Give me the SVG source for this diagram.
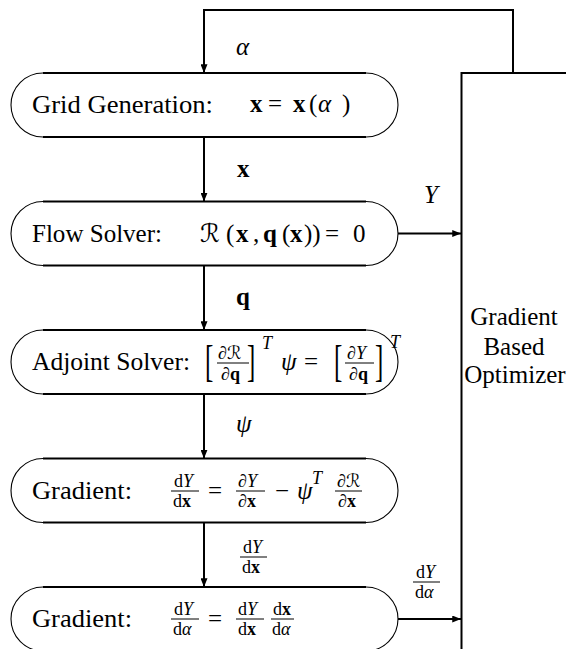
<svg xmlns="http://www.w3.org/2000/svg" width="566" height="649" viewBox="0 0 566 649">
<style>
.b{font-weight:bold}
.i{font-style:italic}
.s{font-family:'Liberation Serif','Times New Roman',serif}
.edge{fill:none;stroke:#000;stroke-width:2}
.arc{fill:none;stroke:#000;stroke-width:1.1}
.flat{fill:none;stroke:#000;stroke-width:2}
.fl{stroke:#000;stroke-width:1}
.box{fill:none;stroke:#000;stroke-width:2}
</style>
<defs>
<marker id="ah" viewBox="0 0 10 8" refX="10" refY="4" markerWidth="9" markerHeight="7" markerUnits="userSpaceOnUse" orient="auto">
<path d="M0,0 L10,4 L0,8 z" fill="#000"/>
</marker>
</defs>

<g id="connectors">
<path class="edge" d="M513,73 V10 H204 V73" marker-end="url(#ah)"/>
<path class="edge" d="M204,137 V201.5" marker-end="url(#ah)"/>
<path class="edge" d="M204,265.5 V330" marker-end="url(#ah)"/>
<path class="edge" d="M204,394 V458.5" marker-end="url(#ah)"/>
<path class="edge" d="M204,522.5 V587" marker-end="url(#ah)"/>
<path class="edge" d="M398,233.5 H461" marker-end="url(#ah)"/>
<path class="edge" d="M398,619 H461" marker-end="url(#ah)"/>
<text class="s i" style="font-family:'Liberation Serif',serif;font-size:25px" x="236" y="55">α</text>
<text class="s b" style="font-family:'Liberation Serif',serif;font-size:25px" x="237" y="177">x</text>
<text class="s i" style="font-family:'Liberation Serif',serif;font-size:25px" x="424" y="203">Y</text>
<text class="s b" style="font-family:'Liberation Serif',serif;font-size:25px" x="236" y="305">q</text>
<text class="s i" style="font-family:'Liberation Serif',serif;font-size:25px" x="236" y="432">ψ</text>
<text class="s" style="font-family:'Liberation Serif',serif;font-size:18px" x="243" y="553">d<tspan class="i">Y</tspan></text>
<line class="fl" x1="240" y1="557" x2="267" y2="557"/>
<text class="s" style="font-family:'Liberation Serif',serif;font-size:18px" x="242" y="573">d<tspan class="b">x</tspan></text>
<text class="s" style="font-family:'Liberation Serif',serif;font-size:18px" x="416" y="578">d<tspan class="i">Y</tspan></text>
<line class="fl" x1="413" y1="582" x2="440" y2="582"/>
<text class="s" style="font-family:'Liberation Serif',serif;font-size:18px" x="415" y="598">d<tspan class="i">α</tspan></text>
</g>

<g id="optimizer">
<rect class="box" x="461.5" y="73" width="120" height="600"/>
<text class="s" style="font-family:'Liberation Serif',serif;font-size:25px" x="514" y="325" text-anchor="middle">Gradient</text>
<text class="s" style="font-family:'Liberation Serif',serif;font-size:25px" x="514" y="355" text-anchor="middle">Based</text>
<text class="s" style="font-family:'Liberation Serif',serif;font-size:25px" x="515" y="383" text-anchor="middle">Optimizer</text>
</g>

<g id="grid">
<path class="flat" d="M43,73 H366 M43,137 H366"/>
<path class="arc" d="M43,73 A32,32 0 0 0 43,137 M366,73 A32,32 0 0 1 366,137"/>
<text class="s" style="font-family:'Liberation Serif',serif;font-size:25px" x="32" y="113" textLength="181" lengthAdjust="spacingAndGlyphs">Grid Generation:</text>
<text class="s" style="font-family:'Liberation Serif',serif;font-size:25px" y="112"><tspan class="b" x="250">x</tspan><tspan x="268">=</tspan><tspan class="b" x="293">x</tspan><tspan x="309">(</tspan><tspan class="i" x="318">α</tspan><tspan x="342">)</tspan></text>
</g>

<g id="flow">
<path class="flat" d="M43,201.5 H366 M43,265.5 H366"/>
<path class="arc" d="M43,201.5 A32,32 0 0 0 43,265.5 M366,201.5 A32,32 0 0 1 366,265.5"/>
<text class="s" style="font-family:'Liberation Serif',serif;font-size:25px" x="32" y="241.5" textLength="130" lengthAdjust="spacingAndGlyphs">Flow Solver:</text>
<text class="s" style="font-family:'Liberation Serif',serif;font-size:25px" y="241.5"><tspan style="font-family:'DejaVu Sans'" x="200">ℛ</tspan><tspan x="226">(</tspan><tspan class="b" x="236">x</tspan><tspan x="253">,</tspan><tspan class="b" x="263">q</tspan><tspan x="282">(</tspan><tspan class="b" x="290">x</tspan><tspan x="304">))</tspan><tspan x="325">=</tspan><tspan x="353">0</tspan></text>
</g>

<g id="adjoint">
<path class="flat" d="M43,330 H366 M43,394 H366"/>
<path class="arc" d="M43,330 A32,32 0 0 0 43,394 M366,330 A32,32 0 0 1 366,394"/>
<text class="s" style="font-family:'Liberation Serif',serif;font-size:25px" x="32" y="370" textLength="158" lengthAdjust="spacingAndGlyphs">Adjoint Solver:</text>
<text class="s" style="font-family:'Liberation Serif',serif;font-size:25px" transform="translate(205,375.5) scale(1,1.75)">[</text>
<text class="s" style="font-family:'Liberation Serif',serif;font-size:18px" x="218" y="359">∂<tspan style="font-family:'DejaVu Sans'">ℛ</tspan></text>
<line class="fl" x1="217" y1="363" x2="249" y2="363"/>
<text class="s" style="font-family:'Liberation Serif',serif;font-size:18px" x="221" y="380">∂<tspan class="b">q</tspan></text>
<text class="s" style="font-family:'Liberation Serif',serif;font-size:25px" transform="translate(247,375.5) scale(1,1.75)">]</text>
<text class="s i" style="font-family:'Liberation Serif',serif;font-size:18px" x="262" y="349">T</text>
<text class="s i" style="font-family:'Liberation Serif',serif;font-size:25px" x="281" y="370">ψ</text>
<text class="s" style="font-family:'Liberation Serif',serif;font-size:25px" x="304" y="370">=</text>
<text class="s" style="font-family:'Liberation Serif',serif;font-size:25px" transform="translate(334,375.5) scale(1,1.75)">[</text>
<text class="s" style="font-family:'Liberation Serif',serif;font-size:18px" x="347" y="359">∂<tspan class="i">Y</tspan></text>
<line class="fl" x1="345" y1="363" x2="374" y2="363"/>
<text class="s" style="font-family:'Liberation Serif',serif;font-size:18px" x="349" y="380">∂<tspan class="b">q</tspan></text>
<text class="s" style="font-family:'Liberation Serif',serif;font-size:25px" transform="translate(375,375.5) scale(1,1.75)">]</text>
<text class="s i" style="font-family:'Liberation Serif',serif;font-size:18px" x="390" y="348">T</text>
</g>

<g id="gradient1">
<path class="flat" d="M43,458.5 H366 M43,522.5 H366"/>
<path class="arc" d="M43,458.5 A32,32 0 0 0 43,522.5 M366,458.5 A32,32 0 0 1 366,522.5"/>
<text class="s" style="font-family:'Liberation Serif',serif;font-size:25px" x="32" y="498.5" textLength="100" lengthAdjust="spacingAndGlyphs">Gradient:</text>
<text class="s" style="font-family:'Liberation Serif',serif;font-size:18px" x="174" y="487">d<tspan class="i">Y</tspan></text>
<line class="fl" x1="171" y1="491" x2="199" y2="491"/>
<text class="s" style="font-family:'Liberation Serif',serif;font-size:18px" x="173" y="507">d<tspan class="b">x</tspan></text>
<text class="s" style="font-family:'Liberation Serif',serif;font-size:25px" x="208" y="498.5">=</text>
<text class="s" style="font-family:'Liberation Serif',serif;font-size:18px" x="238" y="487">∂<tspan class="i">Y</tspan></text>
<line class="fl" x1="236" y1="491" x2="265" y2="491"/>
<text class="s" style="font-family:'Liberation Serif',serif;font-size:18px" x="238" y="507">∂<tspan class="b">x</tspan></text>
<text class="s" style="font-family:'Liberation Serif',serif;font-size:25px" x="275" y="498.5">−</text>
<text class="s i" style="font-family:'Liberation Serif',serif;font-size:25px" x="297" y="498.5">ψ</text>
<text class="s i" style="font-family:'Liberation Serif',serif;font-size:18px" x="312" y="484">T</text>
<text class="s" style="font-family:'Liberation Serif',serif;font-size:18px" x="337" y="487">∂<tspan style="font-family:'DejaVu Sans'">ℛ</tspan></text>
<line class="fl" x1="335" y1="491" x2="362" y2="491"/>
<text class="s" style="font-family:'Liberation Serif',serif;font-size:18px" x="338" y="507">∂<tspan class="b">x</tspan></text>
</g>

<g id="gradient2">
<path class="flat" d="M43,587 H366 M43,651 H366"/>
<path class="arc" d="M43,587 A32,32 0 0 0 43,651 M366,587 A32,32 0 0 1 366,651"/>
<text class="s" style="font-family:'Liberation Serif',serif;font-size:25px" x="32" y="627" textLength="100" lengthAdjust="spacingAndGlyphs">Gradient:</text>
<text class="s" style="font-family:'Liberation Serif',serif;font-size:18px" x="174" y="615">d<tspan class="i">Y</tspan></text>
<line class="fl" x1="171" y1="619" x2="199" y2="619"/>
<text class="s" style="font-family:'Liberation Serif',serif;font-size:18px" x="173" y="635">d<tspan class="i">α</tspan></text>
<text class="s" style="font-family:'Liberation Serif',serif;font-size:25px" x="208" y="627">=</text>
<text class="s" style="font-family:'Liberation Serif',serif;font-size:18px" x="238" y="615">d<tspan class="i">Y</tspan></text>
<line class="fl" x1="236" y1="619" x2="264" y2="619"/>
<text class="s" style="font-family:'Liberation Serif',serif;font-size:18px" x="238" y="635">d<tspan class="b">x</tspan></text>
<text class="s" style="font-family:'Liberation Serif',serif;font-size:18px" x="273" y="615">d<tspan class="b">x</tspan></text>
<line class="fl" x1="271" y1="619" x2="294" y2="619"/>
<text class="s" style="font-family:'Liberation Serif',serif;font-size:18px" x="272" y="635">d<tspan class="i">α</tspan></text>
</g>
</svg>
